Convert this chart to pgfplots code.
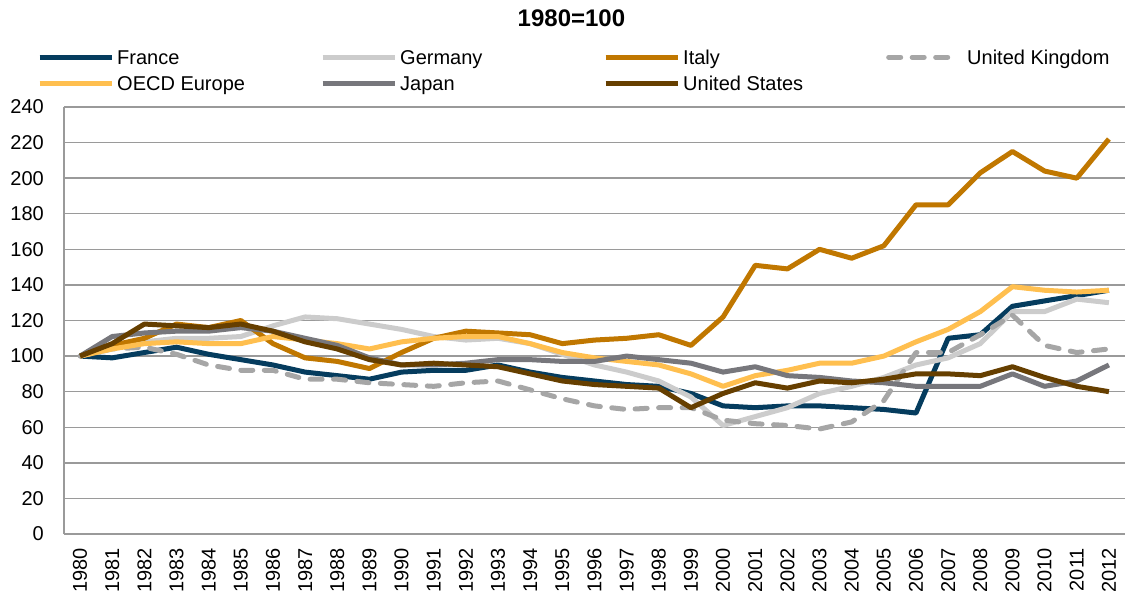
\documentclass[border=0pt]{standalone}
\usepackage{pgfplots}
\usepackage{pgfplotstable}
\pgfplotsset{compat=1.18}
\usepackage{fontspec}
\setmainfont{Liberation Sans}

\definecolor{cfrance}{HTML}{053C5E}
\definecolor{cgermany}{HTML}{CCCCCC}
\definecolor{citaly}{HTML}{C07700}
\definecolor{cuk}{HTML}{A6A6A6}
\definecolor{coecd}{HTML}{FFBF4F}
\definecolor{cjapan}{HTML}{77777C}
\definecolor{cus}{HTML}{663F00}
\definecolor{gridgray}{HTML}{9A9A9A}

% index, 1980=100
\pgfplotstableread{
year France Germany Italy UK OECD Japan US
1980 100 100 100 100 100 100 100
1981 99  105 106 104 104 111 107
1982 102 108 110 105 107 113 118
1983 105 110 118 101 108 114 117
1984 101 110 116 95  107 114 116
1985 98  111 120 92  107 116 118
1986 95  117 107 92  111 114 114
1987 91  122 99  87  109 110 108
1988 89  121 97  87  107 106 104
1989 87  118 93  85  104 99  98
1990 91  115 102 84  108 95  95
1991 92  111 110 83  110 95  96
1992 92  109 114 85  111 96  95
1993 95  110 113 86  111 98  94
1994 91  107 112 81  107 98  90
1995 88  101 107 76  102 97  86
1996 86  95  109 72  99  97  84
1997 84  91  110 70  97  100 83
1998 83  86  112 71  95  98  82
1999 79  77  106 71  90  96  71
2000 72  61  122 64  83  91  79
2001 71  66  151 62  89  94  85
2002 72  71  149 61  92  89  82
2003 72  79  160 59  96  88  86
2004 71  83  155 63  96  86  85
2005 70  88  162 75  100 85  87
2006 68  95  185 102 108 83  90
2007 110 99  185 102 115 83  90
2008 112 107 203 112 125 83  89
2009 128 125 215 123 139 90  94
2010 131 125 204 106 137 83  88
2011 134 132 200 102 136 86  83
2012 137 130 222 104 137 95  80
}\datatable

\newcommand{\lbl}[1]{\makebox[200bp][l]{#1}}

\begin{document}
\begin{tikzpicture}
\useasboundingbox (-64bp,-59bp) rectangle (1061bp,534bp);
\begin{axis}[
    scale only axis,
    width=1061bp, height=427bp,
    xmin=1979.5, xmax=2012.5,
    ymin=0, ymax=240,
    xtick={1980,1981,...,2012},
    ytick={0,20,...,240},
    major tick length=0pt,
    /pgf/number format/1000 sep={},
    /pgf/number format/assume math mode=true,
    tick label style={font=\fontsize{20bp}{24bp}\selectfont, inner sep=0pt},
    xticklabel style={yshift=-14bp, rotate=90, anchor=east},
    yticklabel style={xshift=-20bp, anchor=east},
    axis x line*=bottom,
    axis y line*=left,
    axis line style={draw=gridgray, line width=1.5bp, -},
    ymajorgrids,
    grid style={draw=gridgray, line width=1.5bp},
    title={\textbf{1980=100}},
    title style={at={(0.4783,1.1756)}, anchor=base, inner sep=0pt,
        font=\fontsize{24bp}{28bp}\selectfont},
    every axis plot/.append style={line width=5bp, line join=round, no markers},
    legend image code/.code={\draw[#1] (0bp,1.5bp) -- (72bp,1.5bp);},
    legend columns=4,
    legend cell align=left,
    legend style={
        at={(-0.02545,1.1358)}, anchor=north west,
        draw=none, fill=none, inner sep=0pt,
        column sep=3bp, row sep=7.5bp,
        font=\fontsize{20bp}{24bp}\selectfont,
        nodes={inner sep=0pt, text height=15bp, text depth=4bp},
    },
]
\addplot[cfrance] table[x=year, y=France] {\datatable};
\addlegendentry{\lbl{France}}
\addplot[cgermany] table[x=year, y=Germany] {\datatable};
\addlegendentry{\lbl{Germany}}
\addplot[citaly] table[x=year, y=Italy] {\datatable};
\addlegendentry{\lbl{Italy}}
\addplot[cuk, line cap=round, dash pattern=on 12bp off 11.5bp,
    legend image code/.code={
        \path[draw=none] (0bp,1.5bp) -- (72bp,1.5bp);
        \draw[cuk, line width=5bp, line cap=round, dash pattern=on 12bp off 11.5bp]
            (2.5bp,1.5bp) -- (62bp,1.5bp);}]
    table[x=year, y=UK] {\datatable};
\addlegendentry{\hspace{6bp}United Kingdom}
\addplot[coecd] table[x=year, y=OECD] {\datatable};
\addlegendentry{\lbl{OECD Europe}}
\addplot[cjapan] table[x=year, y=Japan] {\datatable};
\addlegendentry{\lbl{Japan}}
\addplot[cus] table[x=year, y=US] {\datatable};
\addlegendentry{\lbl{United States}}
\end{axis}
\end{tikzpicture}
\end{document}
